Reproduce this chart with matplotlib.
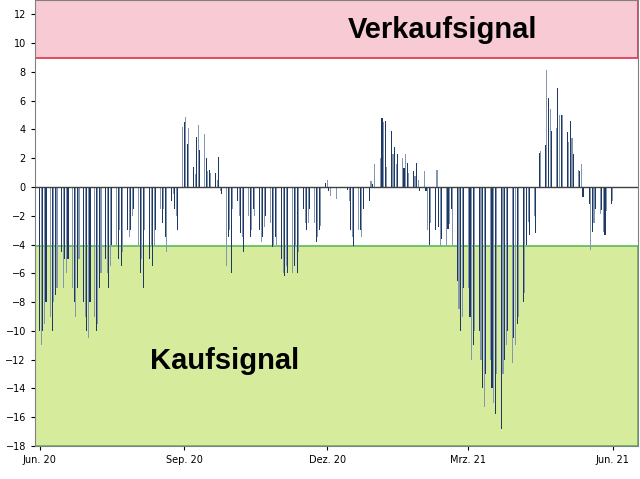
import matplotlib
matplotlib.use("Agg")
import matplotlib.pyplot as plt
import numpy as np
import pandas as pd

start = "2020-06-01"
weekly_values = [
    [-10, -11, -10, -9.5, -8],
    [-9, -10, -8, -7.5, -7],
    [-4.5, -7, -5, -6, -5],
    [-7, -8, -9, -7, -5],
    [-8, -9, -10, -10.5, -8],
    [-9, -10, -9.5, -7, -6],
    [-5, -6, -7, -5.5, -4],
    [-4, -5, -3, -5.5, -4.5],
    [-3, -3.5, -3, -2, -1.5],
    [-4, -6, -5, -7, -3],
    [-5, -4, -5.5, -4, -3],
    [-1.5, -2.5, -1.5, -3.5, -4.5],
    [-1, -0.5, -1.5, -2, -3],
    [4.2, 4.5, 4.9, 3.0, 4.1],
    [1.4, 0.9, 3.5, 4.3, 2.6],
    [3.7, 2.0, 1.1, 1.2, 1.0],
    [1.0, 0.5, 2.1, -0.3, -0.5],
    [-5.5, -3.5, -3, -6, -1.5],
    [-1, -2, -3.2, -3.5, -4.5],
    [-2, -3.5, -3, -1.5, -2],
    [-3, -3.8, -3.5, -2.8, -2],
    [-2.5, -4.2, -4, -3.5, -4],
    [-5, -6, -6.2, -5.5, -6],
    [-6, -5.5, -4, -6, -4.5],
    [-1.5, -2.5, -3, -2.5, -1.5],
    [-2.5, -3.8, -3.5, -3, -2.7],
    [0.3, 0.5, -0.3, -0.6, 0],
    [-0.8, 0, 0, 0, 0],
    [-0.2, -1.0, -3.0, -3.5, -4.1],
    [-3, -3, -3.5, -1.5, 0],
    [-1, 0.4, 0.2, 1.6, 0],
    [2.0, 4.8, 4.5, 4.6, 1.4],
    [3.9, 2.3, 2.8, 1.6, 2.3],
    [2.0, 1.3, 2.3, 1.7, 1.0],
    [1.1, 0.8, 1.7, 0.5, -0.3],
    [1.1, -0.3, -3.0, -4.0, -2.5],
    [-3.0, 1.2, -2.8, -4.1, -3.6],
    [-4.0, -2.9, -2.6, -1.5, -4.0],
    [-6.5, -8.5, -10, -9, -7],
    [-7, -9, -12, -11, -10],
    [-10, -12, -14, -15.3, -13],
    [-12, -14, -15, -15.8, -13],
    [-16.8, -13, -12, -11, -10],
    [-12.2, -10.5, -11, -9.5, -9],
    [-8, -7.4, -4, -2.4, -3.3],
    [-2, -3.2, 0, 2.4, 2.5],
    [2.9, 8.1, 6.2, 5.4, 3.9],
    [4.1, 6.9, 5.0, 5.0, 5.0],
    [3.8, 3.1, 4.6, 3.4, 2.3],
    [1.2, 1.1, 1.6, -0.7, 0],
    [-1.2, -4.4, -3.1, -2.5, -1.5],
    [-1.9, -1.6, -3.1, -3.3, -1.7],
    [-1.2, -1.0],
]
tick_dates = ["2020-06-01", "2020-09-01", "2020-12-01", "2021-03-01", "2021-06-01"]
tick_labels = ["Jun. 20", "Sep. 20", "Dez. 20", "Mrz. 21", "Jun. 21"]

dates, vals = [], []
s = pd.Timestamp(start)
for k, wk in enumerate(weekly_values):
    for d, v in enumerate(wk):
        dates.append(s + pd.Timedelta(days=7 * k + d))
        vals.append(v)
colors = ["#1f3864" if i % 2 == 0 else "#8497b0" for i in range(len(vals))]

fig = plt.figure(figsize=(6.4, 4.79), dpi=100)
ax = fig.add_axes([35 / 640, 1 - 446 / 479, 603 / 640, 446 / 479])
ax.set_xlim(pd.Timestamp("2020-05-29"), pd.Timestamp("2021-06-17"))
ax.set_ylim(-18, 13)
ax.axhspan(9, 13, facecolor="#f8cad3", edgecolor="#e0304a", linewidth=1.2, zorder=0)
ax.axhspan(-18, -4.1, facecolor="#d6eb9c", edgecolor="#5cb85c", linewidth=1.2, zorder=0)
ax.bar(dates, vals, width=0.7, color=colors, zorder=2)
ax.axhline(0, color="#404040", linewidth=1, zorder=3)
ax.set_yticks(range(-18, 13, 2))
ax.set_xticks([pd.Timestamp(t) for t in tick_dates])
ax.set_xticklabels(tick_labels)
ax.tick_params(labelsize=7, length=3)
for sp in ax.spines.values():
    sp.set_color("#808080")
ax.text(pd.Timestamp("2020-12-14"), 10.9, "Verkaufsignal", fontsize=21, fontweight="bold",
        family="Liberation Sans", va="center", ha="left", color="black", zorder=4)
ax.text(pd.Timestamp("2020-08-10"), -12.1, "Kaufsignal", fontsize=21, fontweight="bold",
        family="Liberation Sans", va="center", ha="left", color="black", zorder=4)
fig.savefig("out.png", dpi=100)
